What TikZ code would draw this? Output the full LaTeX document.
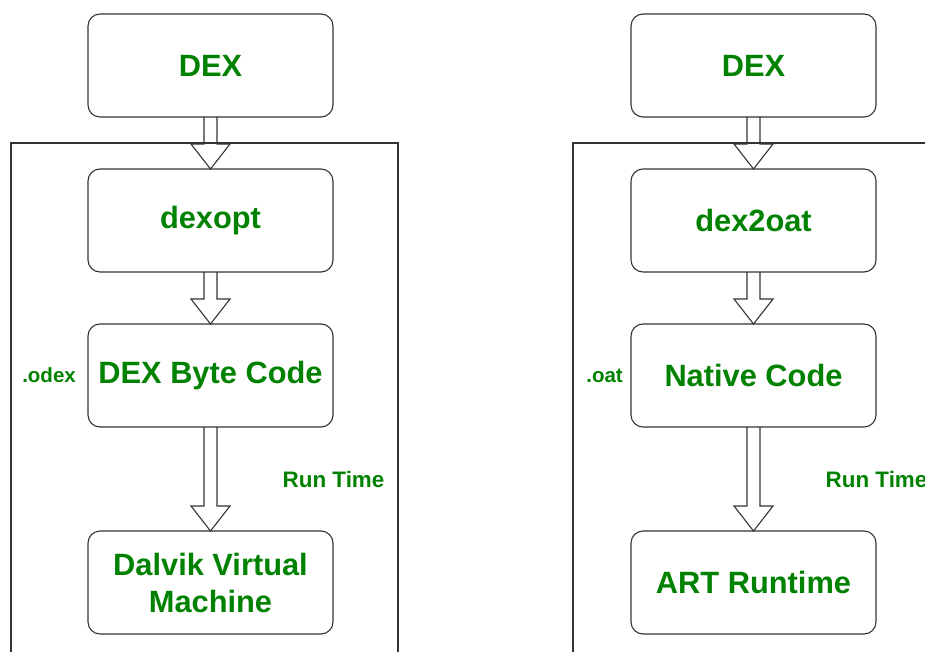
\documentclass[tikz,border=0pt]{standalone}
\usepackage{fontspec}
\setmainfont{Liberation Sans}
\usepackage{tikz}
\usetikzlibrary{calc,positioning}
\definecolor{dexgreen}{RGB}{0,130,0}
\tikzset{
        block/.style = {draw=black!80, line width=1.1pt, rectangle,
            rounded corners=12pt,
            minimum height=103pt,
            minimum width=245pt, outer sep=0pt,
            text=dexgreen, align=center,
            font=\fontsize{30.8}{37}\selectfont\bfseries},
        tag/.style = {text=dexgreen, inner sep=2pt,
            font=\fontsize{20.5}{24}\selectfont\bfseries},
        runtag/.style = {tag, font=\fontsize{22.4}{26}\selectfont\bfseries},
        hollow/.style = {draw=black!80, line width=1.1pt, line join=miter},
        frame/.style = {draw=black!80, line width=1.1pt},
    }
\newcommand{\fatarrow}[2]{%
  \draw[hollow] ($(#1.south)+(-6.5pt,0)$) -- ($(#2.north)+(-6.5pt,25pt)$)
    -- ($(#2.north)+(-19.5pt,25pt)$) -- (#2.north)
    -- ($(#2.north)+(19.5pt,25pt)$) -- ($(#2.north)+(6.5pt,25pt)$)
    -- ($(#1.south)+(6.5pt,0)$);}

\begin{document}
\begin{tikzpicture}[x=1pt,y=-1pt]
    \useasboundingbox (0,0) rectangle (925,652);

    % Dalvik side
    \draw[frame] (11,700) -- (11,143) -- (398,143) -- (398,700);
    \node[block] (dexa) at (210.5,65.5) {DEX};
    \node[block, below=52pt of dexa] (dexopt) {dexopt};
    \node[block, below=52pt of dexopt] (bytecode) {DEX Byte Code};
    \node[block, below=104pt of bytecode] (dalvik) {Dalvik Virtual\\Machine};
    \node[tag, anchor=east, xshift=-10pt] (odex) at (bytecode.west) {.odex};
    \node[runtag, anchor=west, xshift=70pt] (runa)
        at ($(bytecode.south)!0.5!(dalvik.north)$) {Run Time};
    \fatarrow{dexa}{dexopt}
    \fatarrow{dexopt}{bytecode}
    \fatarrow{bytecode}{dalvik}

    % ART side
    \draw[frame] (573,700) -- (573,143) -- (960,143);
    \node[block] (dexb) at (753.5,65.5) {DEX};
    \node[block, below=52pt of dexb] (dextooat) {dex2oat};
    \node[block, below=52pt of dextooat] (native) {Native Code};
    \node[block, below=104pt of native] (art) {ART Runtime};
    \node[tag, anchor=east, xshift=-6pt] (oat) at (native.west) {.oat};
    \node[runtag, anchor=west, xshift=70pt] (runb)
        at ($(native.south)!0.5!(art.north)$) {Run Time};
    \fatarrow{dexb}{dextooat}
    \fatarrow{dextooat}{native}
    \fatarrow{native}{art}
\end{tikzpicture}
\end{document}
